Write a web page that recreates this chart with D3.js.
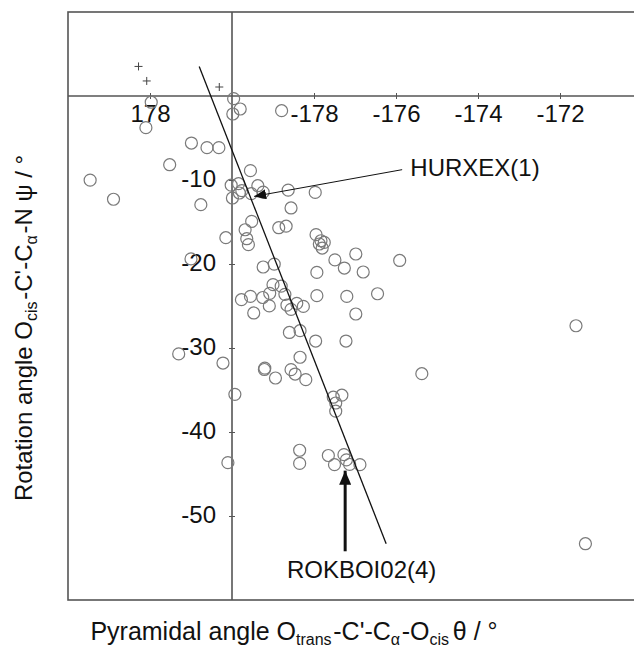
<!DOCTYPE html>
<html>
<head>
<meta charset="utf-8">
<script src="https://cdn.jsdelivr.net/npm/d3@7"></script>
<style>
  body { margin: 0; background: #fff; }
  text { font-family: "Liberation Sans", Arial, sans-serif; fill: #111; }
</style>
</head>
<body>
<svg id="chart"></svg>
<script>
// pyramidal angle theta (deg) and rotation angle psi (deg) of each structure
const thetaVals = [178.03, -179.96, -179.80, -179.98, -178.79, 177.90, 179.01, 179.39, 179.68, 178.48,
  176.54, 177.11, -179.55, 179.98, -179.84, -179.76, -179.37, -179.24, -179.53, -179.99,
  -179.82, -178.63, -177.97, 179.24, -178.56, -179.52, -179.68, -179.64, -179.60, 179.85,
  -178.86, -178.68, -177.95, -177.87, -177.80, -177.75, -177.83, -177.49, -177.26, -176.98,
  -176.80, -175.91, -177.93, 179.00, -179.24, -178.97, -179.77, -179.55, -179.25, -179.09,
  -179.08, -179.00, -178.80, -178.71, -178.66, -178.56, -178.42, -178.26, -179.47, -177.93,
  -177.20, -176.45, -176.98, -178.60, -178.34, -177.96, -177.22, 178.70, 179.78, -179.93,
  -179.20, -179.21, -178.94, -178.56, -178.46, -178.20, -178.34, -177.53, -177.47, -177.47,
  -177.32, -175.37, -171.61, -171.38, 179.90, -178.35, -178.35, -177.65, -177.50, -177.27,
  -177.21, -177.13, -176.88];
const psiVals = [-0.74, -0.32, -1.55, -2.14, -1.75, -3.77, -5.60, -6.15, -6.15, -8.18,
  -10.02, -12.29, -8.89, -10.62, -10.44, -11.27, -10.68, -11.45, -11.63, -12.14,
  -11.55, -11.21, -11.48, -12.94, -13.33, -14.93, -15.92, -16.99, -17.70, -16.87,
  -15.68, -15.50, -16.51, -17.62, -18.10, -17.43, -17.23, -19.51, -20.48, -18.81,
  -20.95, -19.58, -21.00, -19.39, -20.36, -20.02, -24.25, -23.86, -23.99, -24.99,
  -23.49, -22.46, -22.64, -23.61, -24.90, -25.40, -24.68, -25.05, -25.83, -23.77,
  -23.86, -23.54, -25.95, -28.15, -27.94, -29.17, -29.17, -30.70, -31.79, -35.52,
  -32.40, -32.56, -33.57, -32.58, -33.10, -33.77, -31.10, -35.86, -36.55, -37.52,
  -35.62, -33.06, -27.35, -53.30, -43.65, -42.17, -43.74, -42.80, -43.89, -42.70,
  -43.32, -43.86, -43.89];

// second group, drawn as crosses
const crossTheta = [177.72, 177.92, 179.69];
const crossPsi = [3.52, 1.79, 1.07];

// fitted line end points
const fitTheta = [179.2, -176.24];
const fitPsi = [3.52, -53.3];

const xTicks = [178, -178, -176, -174, -172];
const yTicks = [-10, -20, -30, -40, -50];

// annotations: label, arrow tail, arrow tip (data units)
const notes = [
  {label: "HURXEX(1)", tail: [-175.85, -8.77], tip: [-179.46, -11.95], text: [-175.65, -8.77], heavy: false},
  {label: "ROKBOI02(4)", tail: [-177.24, -54.2], tip: [-177.24, -44.6], text: [-178.66, -56.6], heavy: true}
];

const unwrap = t => t < 0 ? t + 360 : t;
const fmt = v => String(v); // plain hyphen minus, as in the original

const W = 634, H = 656;
const margin = {top: 12, left: 68};
const width = 574, height = 588;

const svg = d3.select("#chart").attr("width", W).attr("height", H);
const g = svg.append("g").attr("transform", `translate(${margin.left},${margin.top})`);

const x = d3.scaleLinear().domain([176, 190]).range([0, width]);
const y = d3.scaleLinear().domain([10, -60]).range([0, height]);

const axisColor = "#555";

// frame
g.append("rect")
  .attr("width", width).attr("height", height)
  .attr("fill", "none").attr("stroke", axisColor).attr("stroke-width", 1.6);

// cross axes through theta = 180, psi = 0
g.append("line")
  .attr("x1", 0).attr("x2", width).attr("y1", y(0)).attr("y2", y(0))
  .attr("stroke", axisColor).attr("stroke-width", 1.6);
g.append("line")
  .attr("x1", x(180)).attr("x2", x(180)).attr("y1", 0).attr("y2", height)
  .attr("stroke", axisColor).attr("stroke-width", 1.6);

const xAxis = d3.axisBottom(x)
  .tickValues(xTicks.map(unwrap))
  .tickFormat(d => fmt(d > 180 ? d - 360 : d))
  .tickSize(3);
const xAxisG = g.append("g").attr("transform", `translate(0,${y(0)})`).call(xAxis);
xAxisG.select(".domain").remove();
xAxisG.selectAll(".tick line").attr("y1", -3).attr("y2", 3).attr("stroke", axisColor);
xAxisG.selectAll(".tick text")
  .attr("y", 20).attr("dy", null)
  .attr("dominant-baseline", "middle")
  .style("font-size", "24px").style("font-family", '"Liberation Sans", Arial, sans-serif').attr("fill", "#111");

const yAxis = d3.axisLeft(y).tickValues(yTicks).tickFormat(fmt).tickSize(3);
const yAxisG = g.append("g").attr("transform", `translate(${x(180)},0)`).call(yAxis);
yAxisG.select(".domain").remove();
yAxisG.selectAll(".tick line").attr("x1", -3).attr("x2", 3).attr("stroke", axisColor);
yAxisG.selectAll(".tick text")
  .attr("x", -16).attr("dy", null)
  .attr("dominant-baseline", "middle")
  .style("font-size", "24px").style("font-family", '"Liberation Sans", Arial, sans-serif').attr("fill", "#111");

// crosses
const crossData = crossTheta.map((t, i) => ({t: unwrap(t), p: crossPsi[i]}));
g.selectAll(".cross")
  .data(crossData)
  .join("path")
  .attr("class", "cross")
  .attr("d", d => `M${x(d.t) - 4},${y(d.p)}h8M${x(d.t)},${y(d.p) - 4}v8`)
  .attr("stroke", "#444").attr("stroke-width", 1);

// circles
const pts = thetaVals.map((t, i) => ({t: unwrap(t), p: psiVals[i]}));
g.selectAll(".pt")
  .data(pts)
  .join("circle")
  .attr("class", "pt")
  .attr("cx", d => x(d.t))
  .attr("cy", d => y(d.p))
  .attr("r", 6)
  .attr("fill", "none")
  .attr("stroke", "#7a7a7a")
  .attr("stroke-width", 1.2);

// fitted line
g.append("line")
  .attr("x1", x(unwrap(fitTheta[0]))).attr("y1", y(fitPsi[0]))
  .attr("x2", x(unwrap(fitTheta[1]))).attr("y2", y(fitPsi[1]))
  .attr("stroke", "#111").attr("stroke-width", 1.3);

// arrow heads
const defs = svg.append("defs");
defs.append("marker")
  .attr("id", "head-thin")
  .attr("markerUnits", "userSpaceOnUse")
  .attr("viewBox", "0 0 12 10")
  .attr("refX", 12).attr("refY", 5)
  .attr("markerWidth", 12).attr("markerHeight", 10)
  .attr("orient", "auto")
  .append("path").attr("d", "M0,0 L12,5 L0,10 Z").attr("fill", "#111");
defs.append("marker")
  .attr("id", "head-heavy")
  .attr("markerUnits", "userSpaceOnUse")
  .attr("viewBox", "0 0 14 12")
  .attr("refX", 14).attr("refY", 6)
  .attr("markerWidth", 14).attr("markerHeight", 12)
  .attr("orient", "auto")
  .append("path").attr("d", "M0,0 L14,6 L0,12 Z").attr("fill", "#111");

notes.forEach(n => {
  g.append("line")
    .attr("x1", x(unwrap(n.tail[0]))).attr("y1", y(n.tail[1]))
    .attr("x2", x(unwrap(n.tip[0]))).attr("y2", y(n.tip[1]))
    .attr("stroke", "#111")
    .attr("stroke-width", n.heavy ? 3 : 1)
    .attr("marker-end", n.heavy ? "url(#head-heavy)" : "url(#head-thin)");
  g.append("text")
    .attr("x", x(unwrap(n.text[0]))).attr("y", y(n.text[1]))
    .attr("dominant-baseline", "middle")
    .style("font-size", "24px")
    .text(n.label);
});

// axis titles with subscripts
function subText(sel, parts) {
  parts.forEach(p => {
    if (p.sub) {
      sel.append("tspan").attr("dy", 5).style("font-size", "16px").text(p.s);
      sel.append("tspan").attr("dy", -5).style("font-size", "6px").text("\u00a0");
    } else {
      sel.append("tspan").text(p.s);
    }
  });
}

const xTitle = svg.append("text")
  .attr("x", 294).attr("y", 640)
  .attr("text-anchor", "middle")
  .style("font-size", "25px");
subText(xTitle, [
  {s: "Pyramidal angle O"}, {s: "trans", sub: true}, {s: "-C'-C"}, {s: "\u03b1", sub: true},
  {s: "-O"}, {s: "cis", sub: true}, {s: "\u200a\u03b8 / \u00b0"}
]);

const yTitle = svg.append("text")
  .attr("transform", "translate(32,328) rotate(-90)")
  .attr("text-anchor", "middle")
  .style("font-size", "24px");
subText(yTitle, [
  {s: "Rotation angle O"}, {s: "cis", sub: true}, {s: "-C'-C"}, {s: "\u03b1", sub: true},
  {s: "-N \u03c8 / \u00b0"}
]);
</script>
</body>
</html>
